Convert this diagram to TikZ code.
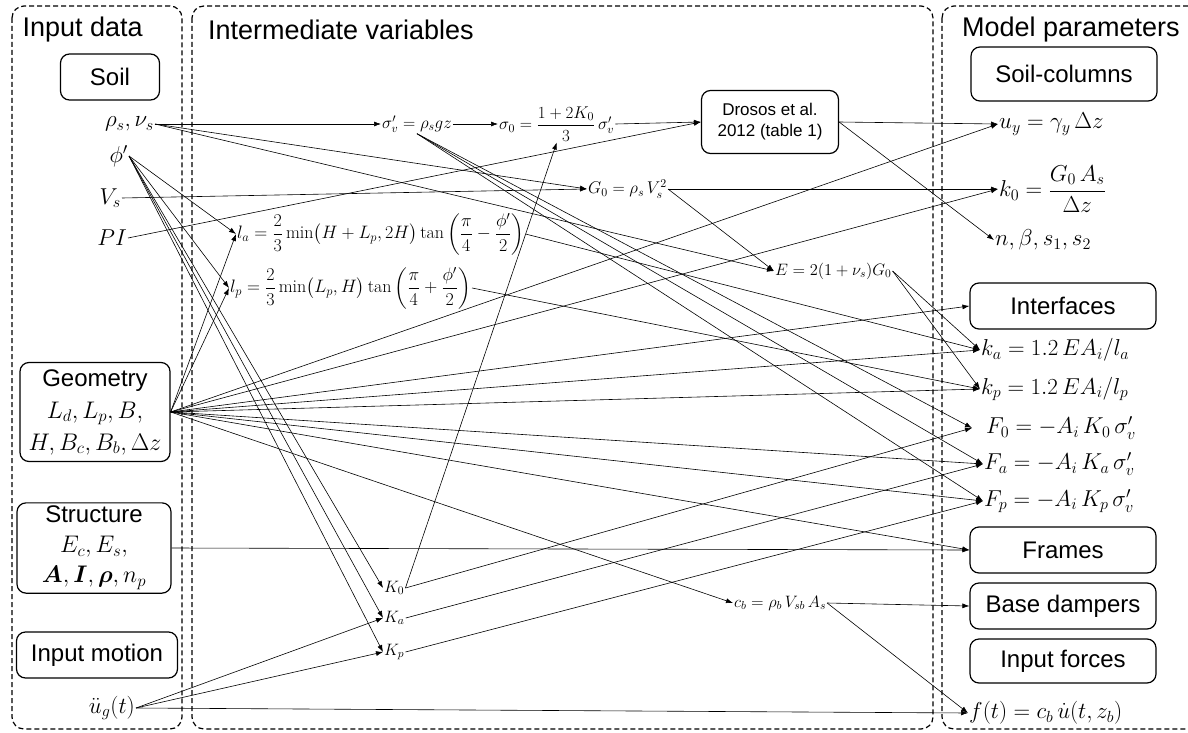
\RequirePackage{fix-cm}
\documentclass[tikz,border=0pt]{standalone}
\usepackage{amsmath,bm}
\usepackage{fontspec}
\setsansfont{Liberation Sans}
\usetikzlibrary{arrows.meta}

\newcommand{\ttlsz}{\fontsize{27}{32}\selectfont}
\newcommand{\bigsz}{\fontsize{24}{32}\selectfont}
\newcommand{\varsz}{\fontsize{23}{28}\selectfont}
\newcommand{\drsz}{\fontsize{17}{21}\selectfont}
\newcommand{\midsz}{\fontsize{17}{20}\selectfont}
\newcommand{\lsz}{\fontsize{18}{22}\selectfont}
\newcommand{\smlsz}{\fontsize{16.5}{19}\selectfont}

\begin{document}
\begin{tikzpicture}[x=1pt,y=-1pt,
  panel/.style={draw,line width=1.2pt,dash pattern=on 5pt off 3pt,rounded corners=12pt},
  box/.style={draw,line width=1.2pt,rounded corners=9pt,align=center,font=\sffamily\bigsz},
  ttl/.style={anchor=west,font=\sffamily\ttlsz},
  var/.style={inner sep=1pt,font=\varsz},
  mid/.style={inner sep=1pt,anchor=west,font=\midsz},
  arr/.style={-{Latex[length=7pt,width=5pt]},line width=0.6pt}]
  \useasboundingbox (0,0) rectangle (1188,733);
  \draw[panel] (12,6) rectangle (182,729);
  \draw[panel] (192,6) rectangle (933,729);
  \draw[panel] (942,6) rectangle (1200,729);
  \node[ttl] (tin) at (19,30) {Input data};
  \node[ttl] (tmid) at (204.5,30) {Intermediate variables};
  \node[ttl] (tout) at (958.5,30) {Model parameters};

  \node[box,minimum width=99pt,minimum height=46pt] (soil) at (110,77) {Soil};
  \node[var,anchor=east] (rhos) at (155,124) {$\rho_s,\nu_s$};
  \node[var,anchor=east] (phi) at (129,156) {$\phi'$};
  \node[var,anchor=east] (Vs) at (122,198) {$V_s$};
  \node[var,anchor=east] (PI) at (128,238) {$PI$};
  \node[box,minimum width=150pt,minimum height=99pt] (geo) at (95,412)
    {Geometry\\$L_d,L_p,B,$\\$H,B_c,B_b,\Delta z$};
  \node[box,minimum width=154pt,minimum height=90pt,font=\sffamily\fontsize{24}{30}\selectfont] (struct) at (94,548)
    {Structure\\$E_c,E_s,$\\$\bm{A},\bm{I},\bm{\rho},n_p$};
  \node[box,minimum width=161pt,minimum height=46pt] (inmot) at (97,655) {Input motion};
  \node[var,anchor=east] (ug) at (136,708) {$\ddot u_g(t)$};

  \node[mid] (sigv) at (381,124) {$\sigma'_v=\rho_s gz$};
  \node[mid] (sig0) at (498,124) {$\sigma_0=\dfrac{1+2K_0}{3}\,\sigma'_v$};
  \node[box,font=\sffamily\drsz,minimum width=137pt,minimum height=63pt] (dros) at (770,122)
    {Drosos et al.\\2012 (table 1)};
  \node[mid] (G0) at (587,189) {$G_0=\rho_s\,V_s^2$};
  \node[mid,font=\lsz,inner ysep=0pt] (la) at (236,234)
    {$l_a=\dfrac{2}{3}\min\bigl(H+L_p,2H\bigr)\tan\left(\dfrac{\pi}{4}-\dfrac{\phi'}{2}\right)$};
  \node[mid,font=\lsz,inner ysep=0pt] (lp) at (229,288)
    {$l_p=\dfrac{2}{3}\min\bigl(L_p,H\bigr)\tan\left(\dfrac{\pi}{4}+\dfrac{\phi'}{2}\right)$};
  \node[mid,font=\smlsz] (E) at (774,271) {$E=2(1+\nu_s)G_0$};
  \node[mid,font=\smlsz] (K0) at (383,588) {$K_0$};
  \node[mid,font=\smlsz] (Ka) at (383,618) {$K_a$};
  \node[mid,font=\smlsz] (Kp) at (383,652) {$K_p$};
  \node[mid,font=\smlsz] (cb) at (733,603) {$c_b=\rho_b\,V_{sb}\,A_s$};

  \node[box,minimum width=186pt,minimum height=54pt] (soilc) at (1064,74) {Soil-columns};
  \node[var,anchor=west] (uy) at (998,124) {$u_y=\gamma_y\,\Delta z$};
  \node[var,anchor=west] (k0) at (998,189) {$k_0=\dfrac{G_0\,A_s}{\Delta z}$};
  \node[var,anchor=west] (nbeta) at (994,240) {$n,\beta,s_1,s_2$};
  \node[box,minimum width=186pt,minimum height=46pt] (intf) at (1063,306) {Interfaces};
  \node[var,anchor=west] (ka) at (980,350) {$k_a=1.2\,EA_i/l_a$};
  \node[var,anchor=west] (kp) at (980,389) {$k_p=1.2\,EA_i/l_p$};
  \node[var,anchor=west,inner xsep=14pt] (F0) at (972,428) {$F_0=-A_i\,K_0\,\sigma'_v$};
  \node[var,anchor=west] (Fa) at (983,464) {$F_a=-A_i\,K_a\,\sigma'_v$};
  \node[var,anchor=west] (Fp) at (983,501) {$F_p=-A_i\,K_p\,\sigma'_v$};
  \node[box,minimum width=186pt,minimum height=46pt] (frames) at (1063,550) {Frames};
  \node[box,minimum width=186pt,minimum height=46pt] (bdamp) at (1063,606) {Base dampers};
  \node[box,minimum width=186pt,minimum height=44pt] (inforce) at (1063,661) {Input forces};
  \node[var,anchor=west,inner ysep=0pt] (ft) at (968,713) {$f(t)=c_b\,\dot u(t,z_b)$};

  \foreach \src/\dst in {rhos/sigv,rhos/G0,rhos/E,Vs/G0,PI/dros,phi/la,phi/lp,phi/K0,phi/Ka,phi/Kp,
      sigv/sig0,sig0/dros,dros/uy,dros/nbeta,G0/k0,G0/E,E/ka,E/kp,la/ka,lp/kp,K0/F0,Ka/Fa,Kp/Fp,
      cb/bdamp,cb/ft,struct/frames,ug/Ka,ug/Kp,ug/ft}
    \draw[arr] (\src.east) -- (\dst.west);
  \foreach \dst in {la,lp,uy,k0,intf,ka,kp,Fa,Fp,frames,cb}
    \draw[arr] (geo.east) -- (\dst.west);
  \foreach \dst in {F0,Fa,Fp}
    \draw[arr] (sigv.south) -- (\dst.west);
  \draw[arr] (K0.east) -- (sig0.south);
\end{tikzpicture}
\end{document}
